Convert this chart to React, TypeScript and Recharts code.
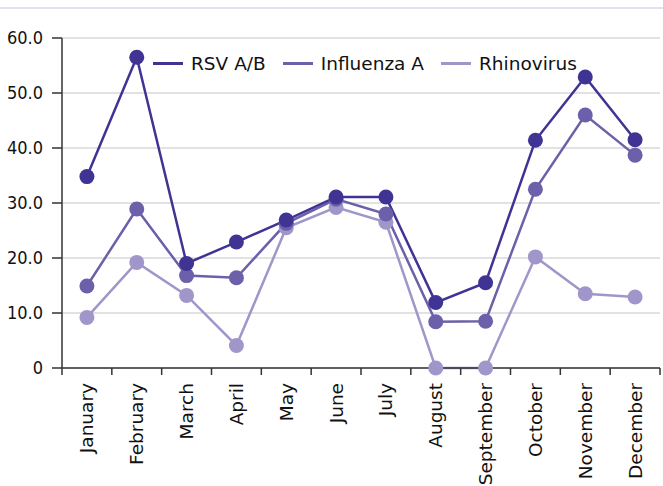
import React from "react";
import { LineChart, Line, XAxis, YAxis, CartesianGrid } from "recharts";

const months = [
  "January", "February", "March", "April", "May", "June",
  "July", "August", "September", "October", "November", "December",
];
const rsv = [34.8, 56.5, 19, 22.9, 26.9, 31.1, 31.1, 11.9, 15.5, 41.4, 52.9, 41.5];
const influenza = [14.9, 28.9, 16.8, 16.4, 26.3, 30.7, 28, 8.4, 8.5, 32.5, 46, 38.7];
const rhinovirus = [9.2, 19.2, 13.2, 4.1, 25.5, 29.2, 26.5, 0, 0, 20.2, 13.5, 12.9];
const yTicks = [0, 10, 20, 30, 40, 50, 60];

const SERIES = [
  { key: "rsv", label: "RSV A/B", color: "#3f3494" },
  { key: "influenza", label: "Influenza A", color: "#6c60aa" },
  { key: "rhinovirus", label: "Rhinovirus", color: "#a096ca" },
];

const data = months.map((m, i) => ({
  month: m,
  rsv: rsv[i],
  influenza: influenza[i],
  rhinovirus: rhinovirus[i],
}));

const W = 663;
const H = 486;
const Y_AXIS_W = 62;
const RIGHT = 3;
const BAND = (W - Y_AXIS_W - RIGHT) / months.length;
const FONT = "'DejaVu Sans', sans-serif";
const FONT_COND = "'DejaVu Sans Condensed', 'DejaVu Sans', sans-serif";

// month labels sit at band centres, tick marks at band edges
function MonthTick(props: any) {
  const { x, y, payload, index } = props;
  const axisY = y - 10;
  const left = x - BAND / 2;
  return (
    <g>
      <line x1={left} y1={axisY} x2={left} y2={axisY + 7} stroke="#333" strokeWidth={1.5} />
      {index === months.length - 1 && (
        <line x1={x + BAND / 2} y1={axisY} x2={x + BAND / 2} y2={axisY + 7} stroke="#333" strokeWidth={1.5} />
      )}
      <text
        x={x}
        y={y + 5}
        transform={`rotate(-90, ${x}, ${y + 5})`}
        textAnchor="end"
        dy="0.35em"
        fontSize={18.5}
        fontFamily={FONT}
        fill="#111"
      >
        {payload.value}
      </text>
    </g>
  );
}

function LegendBox() {
  return (
    <div
      style={{
        position: "absolute",
        top: 53,
        left: 153,
        display: "flex",
        alignItems: "center",
        fontFamily: FONT,
        fontSize: 18.5,
        color: "#111",
        whiteSpace: "nowrap",
      }}
    >
      {SERIES.map((s) => (
        <div key={s.key} style={{ display: "flex", alignItems: "center", marginRight: 17 }}>
          <div style={{ width: 30, height: 3, background: s.color, marginRight: 8 }} />
          <span>{s.label}</span>
        </div>
      ))}
    </div>
  );
}

export default function App() {
  return (
    <div style={{ position: "fixed", top: 0, left: 0, width: W, height: H, background: "#fff" }}>
      <div style={{ position: "absolute", top: 7, left: 0, width: W, height: 2, background: "#e3e1f0" }} />
      <LineChart width={W} height={H} data={data} margin={{ top: 38, right: RIGHT, left: 0, bottom: 0 }}>
        <CartesianGrid vertical={false} stroke="#d9d9d9" strokeWidth={1.5} />
        <XAxis
          dataKey="month"
          scale="band"
          height={118}
          interval={0}
          tickSize={6}
          tickMargin={4}
          tickLine={false}
          axisLine={{ stroke: "#333", strokeWidth: 1.5 }}
          tick={<MonthTick />}
        />
        <YAxis
          width={Y_AXIS_W}
          domain={[0, 60]}
          ticks={yTicks}
          interval={0}
          tickSize={10}
          tickMargin={9}
          axisLine={{ stroke: "#333", strokeWidth: 1.5 }}
          tickLine={{ stroke: "#333", strokeWidth: 1.5 }}
          tickFormatter={(v: number) => (v === 0 ? "0" : v.toFixed(1))}
          tick={{ fontSize: 18, fontFamily: FONT_COND, fill: "#111" }}
        />
        {SERIES.slice().reverse().map((s) => (
          <Line
            key={s.key}
            dataKey={s.key}
            name={s.label}
            stroke={s.color}
            strokeWidth={2.5}
            dot={{ r: 7.5, fill: s.color, stroke: s.color, strokeWidth: 0 }}
            activeDot={false}
            isAnimationActive={false}
          />
        ))}
      </LineChart>
      <LegendBox />
    </div>
  );
}
